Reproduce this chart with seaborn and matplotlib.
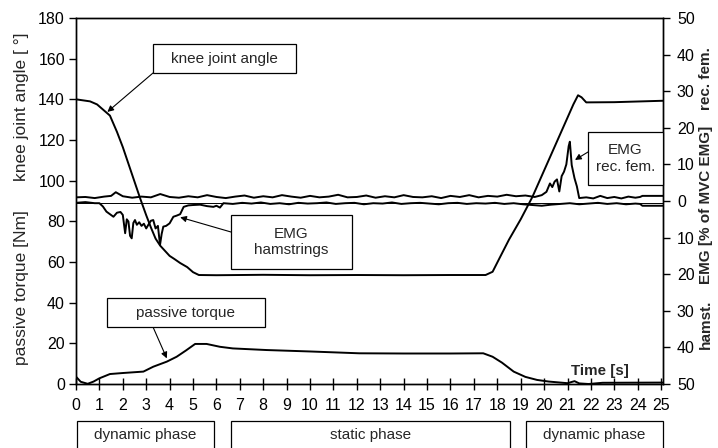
import matplotlib
matplotlib.use("Agg")
import matplotlib.pyplot as plt
import seaborn as sns
import pandas as pd
from matplotlib.patches import Rectangle

# ==============================
# DATA
# ==============================
knee_time = [0, 0.3, 0.6, 0.9, 1.15, 1.45, 1.75, 2.0, 2.25, 2.5,
             2.75, 3.0, 3.2, 3.4, 3.6, 3.8, 4.0, 4.2, 4.45, 4.75,
             5.0, 5.25, 6, 8, 10, 12, 14, 16, 17.5, 17.8,
             18.1, 18.5, 19.0, 19.5, 20.0, 20.5, 21.0, 21.25, 21.45, 21.6,
             21.8, 23, 25.08]
knee_angle = [140, 139.5, 139, 137.5, 135, 132, 124, 116.5, 108, 99.5,
              91, 83, 77, 71.5, 68, 65.5, 63, 61.5, 59.5, 57.5,
              55, 53.6, 53.5, 53.7, 53.5, 53.6, 53.5, 53.6, 53.6, 55.2,
              62, 71, 81, 92, 105, 118, 131, 137.5, 142, 141,
              138.5, 138.6, 139.3]

torque_time = [0, 0.2, 0.5, 0.75, 1.0, 1.45, 2.0, 2.5, 2.88, 3.3,
               3.88, 4.3, 4.7, 5.09, 5.58, 6.15, 6.7, 8.15, 10, 12.1,
               14, 16, 17.4, 17.8, 18.2, 18.7, 19.2, 19.7, 20.2, 20.7,
               21.0, 21.3, 21.5, 21.9, 22.5, 25.08]
torque_nm = [3.6, 1.1, 0.1, 1.2, 2.8, 4.9, 5.4, 5.8, 6.1, 8.5,
             11, 13.4, 16.5, 19.7, 19.7, 18.3, 17.5, 16.7, 16.0, 15.1,
             15.0, 15.0, 15.1, 13.4, 10.5, 6.1, 3.5, 2.0, 1.2, 0.7,
             0.4, 1.4, 0.3, 0.0, 0.6, 0.7]

recfem_time = [0.0, 0.4, 0.8, 1.2, 1.5, 1.7, 2.0, 2.4, 2.8, 3.2,
               3.6, 4.0, 4.4, 4.8, 5.2, 5.6, 6.0, 6.4, 6.8, 7.2,
               7.6, 8.0, 8.4, 8.8, 9.2, 9.6, 10.0, 10.4, 10.8, 11.2,
               11.6, 12.0, 12.4, 12.8, 13.2, 13.6, 14.0, 14.4, 14.8, 15.2,
               15.6, 16.0, 16.4, 16.8, 17.2, 17.6, 18.0, 18.4, 18.8, 19.2,
               19.6, 19.9, 20.1, 20.25, 20.35, 20.45, 20.55, 20.65, 20.75, 20.85,
               20.95, 21.05, 21.1, 21.18, 21.3, 21.4, 21.5, 21.8, 22.1, 22.4,
               22.7, 23.0, 23.3, 23.6, 23.9, 24.1, 24.2, 25.08]
recfem_emg = [1.0, 1.1, 0.8, 1.2, 1.4, 2.4, 1.3, 0.9, 1.2, 1.0,
              1.9, 1.1, 0.9, 1.3, 1.0, 1.6, 1.1, 0.8, 1.2, 1.5,
              0.9, 1.3, 1.0, 1.6, 1.2, 0.9, 1.4, 1.0, 1.2, 1.7,
              1.0, 1.1, 1.5, 0.9, 1.3, 1.0, 1.6, 1.1, 1.0, 1.3,
              0.8, 1.4, 1.1, 1.6, 1.0, 1.4, 1.2, 1.7, 1.3, 1.5,
              1.1, 1.6, 2.5, 4.8, 3.8, 5.3, 5.9, 2.6, 6.8, 8.0,
              10.0, 15.0, 16.2, 9.8, 6.2, 4.0, 0.8, 1.0, 0.7, 1.4,
              0.8, 1.1, 0.7, 1.2, 0.9, 1.1, 1.4, 1.4]

hamst_time = [0.0, 0.4, 0.8, 1.0, 1.15, 1.3, 1.45, 1.6, 1.75, 1.9,
              2.0, 2.1, 2.17, 2.24, 2.31, 2.38, 2.45, 2.52, 2.6, 2.7,
              2.8, 2.9, 3.0, 3.1, 3.2, 3.3, 3.4, 3.5, 3.59, 3.66,
              3.73, 3.85, 4.0, 4.16, 4.3, 4.45, 4.6, 4.8, 5.0, 5.3,
              5.6, 5.87, 6.0, 6.15, 6.3, 6.7, 7.1, 7.5, 7.9, 8.3,
              8.7, 9.1, 9.5, 9.9, 10.3, 10.7, 11.1, 11.5, 11.9, 12.3,
              12.7, 13.1, 13.5, 13.9, 14.3, 14.7, 15.1, 15.5, 15.9, 16.3,
              16.7, 17.1, 17.5, 17.9, 18.3, 18.7, 19.1, 19.5, 19.9, 20.3,
              20.7, 21.1, 21.5, 21.9, 22.3, 22.7, 23.1, 23.5, 23.9, 24.1,
              24.2, 25.08]
# hamstrings EMG is drawn downward on the right axis
hamst_emg = [-0.5, -0.3, -0.6, -0.6, -1.5, -2.9, -3.6, -4.3, -3.2, -3.0,
             -3.8, -8.8, -5.0, -5.6, -9.5, -10.2, -6.0, -5.2, -6.5, -5.8,
             -6.8, -6.2, -7.5, -6.4, -5.4, -5.2, -7.5, -6.8, -12.0, -9.0,
             -7.0, -6.8, -6.1, -4.3, -4.0, -3.6, -1.6, -1.2, -1.1, -1.0,
             -1.4, -1.6, -1.3, -1.8, -0.6, -0.8, -0.5, -0.7, -0.4, -0.8,
             -0.6, -0.9, -0.5, -0.7, -0.6, -0.4, -0.8, -0.6, -0.5, -0.9,
             -0.6, -0.7, -0.4, -0.8, -0.6, -0.5, -0.7, -0.9, -0.6, -0.5,
             -0.8, -0.6, -0.7, -0.5, -0.8, -0.6, -0.9, -1.1, -1.3, -1.0,
             -0.8, -0.6, -0.9, -0.7, -0.5, -0.8, -0.6, -0.9, -0.7, -0.8,
             -1.3, -1.3]

emg_reference = -0.6
x_ticks = list(range(0, 26))
left_ticks = list(range(0, 181, 20))
right_ticks = list(range(-50, 51, 10))
phase_labels = ["dynamic phase", "static phase", "dynamic phase"]

knee_df = pd.DataFrame({"time": knee_time, "angle": knee_angle})
torque_df = pd.DataFrame({"time": torque_time, "torque": torque_nm})
recfem_df = pd.DataFrame({"time": recfem_time, "emg": recfem_emg})
hamst_df = pd.DataFrame({"time": hamst_time, "emg": hamst_emg})

# ==============================
# STYLE
# ==============================
sns.set_theme(style="ticks")
plt.rcParams["font.family"] = ["Liberation Sans", "DejaVu Sans"]
plt.rcParams["axes.edgecolor"] = "black"
plt.rcParams["xtick.color"] = "black"
plt.rcParams["ytick.color"] = "black"

W, H = 718, 448


def px(x, y):
    return x / W, 1 - y / H


fig = plt.figure(figsize=(7.18, 4.48), dpi=100)
ax = fig.add_axes([76 / W, 1 - 384 / H, (663 - 76) / W, (384 - 18) / H])
ax2 = ax.twinx()

line_kw = dict(color="black", linewidth=1.4, estimator=None, sort=False)
sns.lineplot(data=knee_df, x="time", y="angle", ax=ax, **line_kw)
sns.lineplot(data=torque_df, x="time", y="torque", ax=ax, **line_kw)
ax2.axhline(emg_reference, color="black", linewidth=0.7)
sns.lineplot(data=recfem_df, x="time", y="emg", ax=ax2, **line_kw)
sns.lineplot(data=hamst_df, x="time", y="emg", ax=ax2, **line_kw)

ax.set_xlim(0, 25.08)
ax.set_ylim(0, 180)
ax2.set_ylim(-50, 50)
ax.set_xticks(x_ticks)
ax.set_yticks(left_ticks)
ax2.set_yticks(right_ticks)
ax2.set_yticklabels([str(abs(v)) for v in right_ticks])
ax.set_xlabel("")
ax.set_ylabel("")
ax2.set_ylabel("")

for a in (ax, ax2):
    for s in a.spines.values():
        s.set_visible(True)
        s.set_linewidth(1.0)
        s.set_color("black")

ax.tick_params(axis="x", direction="inout", length=8, width=1, labelsize=11.5, pad=6)
ax.tick_params(axis="y", direction="out", length=5, width=1, labelsize=11.5, pad=3)
ax2.tick_params(axis="y", direction="out", length=5, width=1, labelsize=11.5, pad=5)

# axis titles
fig.text(*px(22, 107), "knee joint angle [ °]", rotation=90, ha="center", va="center", fontsize=12.5)
fig.text(*px(22, 288), "passive torque [Nm]", rotation=90, ha="center", va="center", fontsize=12.5)
fig.text(*px(706, 79), "rec. fem.", rotation=90, ha="center", va="center", fontsize=11, weight="bold")
fig.text(*px(706, 205), "EMG [% of MVC EMG]", rotation=90, ha="center", va="center", fontsize=11, weight="bold")
fig.text(*px(706, 324), "hamst.", rotation=90, ha="center", va="center", fontsize=11, weight="bold")
fig.text(*px(600, 371), "Time [s]", ha="center", va="center", fontsize=10.9, weight="bold")


def label_box(x0, y0, x1, y1, text):
    fig.add_artist(Rectangle(px(x0, y1), (x1 - x0) / W, (y1 - y0) / H,
                             transform=fig.transFigure, facecolor="white",
                             edgecolor="black", linewidth=0.9, zorder=3))
    fig.text(*px((x0 + x1) / 2, (y0 + y1) / 2), text, ha="center", va="center",
             fontsize=11, zorder=4, linespacing=1.25)


def arrow(target_ax, xy, start):
    target_ax.annotate("", xy=xy, xycoords="data", xytext=px(*start),
                       textcoords="figure fraction",
                       arrowprops=dict(arrowstyle="-|>", color="black", lw=0.8,
                                       mutation_scale=9, shrinkA=0, shrinkB=0))


label_box(153, 44, 296, 73, "knee joint angle")
arrow(ax, (1.34, 133.8), (153, 73))

label_box(231, 215, 352, 269, "EMG\nhamstrings")
arrow(ax, (4.45, 82), (231, 232))

label_box(107, 298, 265, 327, "passive torque")
arrow(ax, (3.88, 12.6), (153, 327))

label_box(588, 132, 663, 185, "EMG\nrec. fem.")
arrow(ax, (21.32, 110.2), (588, 152))

# phase boxes under the time axis
label_box(77, 421, 214, 450, "")
label_box(231, 421, 510, 450, "")
label_box(526, 421, 663, 450, "")
for (x0, x1), name in zip([(77, 214), (231, 510), (526, 663)], phase_labels):
    fig.text(*px((x0 + x1) / 2, 435), name, ha="center", va="center", fontsize=11, zorder=5)

fig.savefig("out.png", dpi=100)
